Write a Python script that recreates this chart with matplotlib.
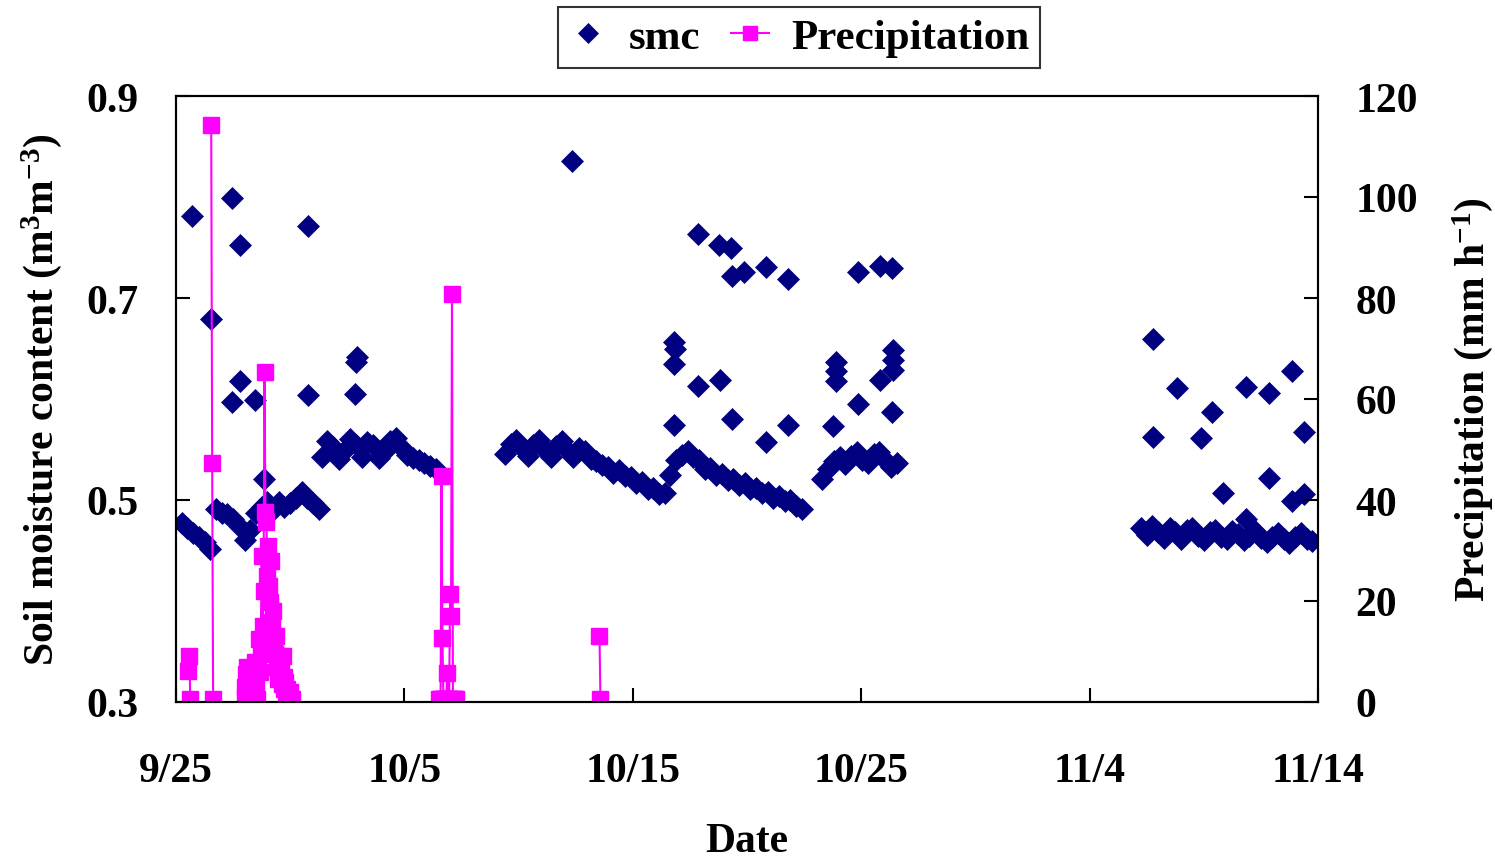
import numpy as np
import matplotlib
matplotlib.use('Agg')
import matplotlib.pyplot as plt

# x axis is days since 9/25 00:00
date_ticks = [0, 10, 20, 30, 40, 50]
date_labels = ['9/25', '10/5', '10/15', '10/25', '11/4', '11/14']

# soil moisture, continuous logger runs read every 6 h (first day, values)
run1_start = 0.25
run1_smc = [0.477, 0.472, 0.467, 0.463, 0.458, 0.451,
            0.491, 0.487, 0.486, 0.481, 0.474, 0.460, 0.470, 0.487,
            0.493, 0.498, 0.490, 0.498, 0.493, 0.497, 0.502, 0.508,
            0.502, 0.497, 0.491]
run2_start = 6.375
run2_smc = [0.543, 0.558, 0.552, 0.541, 0.549, 0.560, 0.554, 0.543,
            0.557, 0.554, 0.542, 0.548, 0.558, 0.561, 0.551, 0.545,
            0.542, 0.540, 0.537, 0.534, 0.531]
run3_start = 14.4
run3_smc = [0.546, 0.555, 0.559, 0.551, 0.544, 0.554, 0.559, 0.550,
            0.543, 0.553, 0.558, 0.549, 0.543, 0.551, 0.549, 0.541,
            0.539, 0.535, 0.533, 0.527, 0.530, 0.524, 0.523, 0.517,
            0.518, 0.511, 0.512, 0.506, 0.507, 0.525, 0.540, 0.545,
            0.549, 0.543, 0.540, 0.531, 0.532, 0.525, 0.526, 0.520,
            0.521, 0.515, 0.517, 0.511, 0.512, 0.507, 0.508, 0.502,
            0.504, 0.499, 0.500, 0.494, 0.491]
run4_start = 28.3
run4_smc = [0.521, 0.531, 0.539, 0.543, 0.536, 0.544, 0.548, 0.540,
            0.537, 0.546, 0.548, 0.540, 0.533, 0.537]
run5_start = 42.25
run5_smc = [0.472, 0.465, 0.474, 0.468, 0.462, 0.472, 0.468, 0.461,
            0.470, 0.472, 0.464, 0.460, 0.468, 0.470, 0.463, 0.461,
            0.469, 0.466, 0.460, 0.464, 0.469, 0.462, 0.458, 0.463,
            0.467, 0.461, 0.457, 0.463, 0.467, 0.461, 0.459]
smc_step = 0.25

# isolated high readings
spike_days = [0.70, 1.53, 2.45, 2.80, 2.45, 2.80, 3.46, 3.85, 5.78, 5.78,
              7.88, 7.92, 7.84, 17.34, 21.80, 21.85, 21.80, 21.80, 22.85,
              22.85, 23.77, 23.82, 24.30, 24.34, 24.34, 24.87, 25.83, 25.83,
              26.80, 26.80, 28.77, 28.90, 28.90, 28.90, 29.86, 29.86, 30.82,
              30.82, 31.35, 31.35, 31.39, 31.39, 31.39, 42.78, 42.78, 43.83,
              44.88, 45.36, 45.84, 46.85, 46.85, 47.85, 47.85, 48.86, 48.86,
              49.39, 49.39]
spike_smc = [0.781, 0.679, 0.799, 0.752, 0.597, 0.618, 0.599, 0.521, 0.771,
             0.604, 0.637, 0.642, 0.605, 0.836, 0.656, 0.650, 0.635, 0.574,
             0.763, 0.613, 0.752, 0.619, 0.750, 0.722, 0.580, 0.726, 0.731,
             0.557, 0.719, 0.574, 0.573, 0.637, 0.628, 0.618, 0.726, 0.595,
             0.732, 0.619, 0.730, 0.587, 0.649, 0.639, 0.629, 0.659, 0.562,
             0.611, 0.561, 0.587, 0.507, 0.612, 0.481, 0.606, 0.522, 0.628,
             0.499, 0.567, 0.506]

# hourly precipitation events (first hour since 9/25 00:00, mm/h)
rain1_start = 13
rain1 = [6.1, 9.1, 0.6]
rain2_start = 37
rain2 = [114.2, 47.3, 0.6]
rain3_start = 72
rain3 = [3.0, 1.0, 5.5, 7.0, 2.0, 0.5, 4.0, 6.5, 3.5, 1.5, 5.0, 8.0, 2.5,
         0.5, 7.5, 12.5, 6.0, 10.0, 28.9, 15.0, 22.0, 65.3, 37.6, 35.6,
         25.0, 30.9, 23.0, 19.8, 28.0, 15.8, 18.0, 12.0, 9.5, 13.0, 7.0,
         4.6, 9.1, 6.0, 8.0, 3.5, 9.1, 5.0, 2.6, 4.0, 1.5, 2.6, 1.0, 0.8,
         2.0, 0.6, 0.5]
rain4_start = 276
rain4 = [0.5, 0.5, 0.5, 44.8, 12.7, 0.5, 0.5, 0.5, 0.5, 5.7, 0.5, 0.5,
         21.4, 17.0, 80.7, 0.5, 0.5, 0.5, 0.5]
rain5_start = 445
rain5 = [13.1, 0.6]

plt.rcParams['font.family'] = ['Liberation Serif', 'DejaVu Serif']
plt.rcParams['font.weight'] = 'bold'
plt.rcParams['mathtext.fontset'] = 'custom'
plt.rcParams['mathtext.rm'] = 'Liberation Serif:bold'
plt.rcParams['mathtext.default'] = 'rm'

fs = 30
navy = '#000080'
magenta = '#FF00FF'

smc_t, smc_v = [], []
for start, vals in [(run1_start, run1_smc), (run2_start, run2_smc),
                    (run3_start, run3_smc), (run4_start, run4_smc),
                    (run5_start, run5_smc)]:
    smc_t.extend(start + smc_step * np.arange(len(vals)))
    smc_v.extend(vals)
smc_t.extend(spike_days)
smc_v.extend(spike_smc)

rain_t, rain_v = [], []
for start, vals in [(rain1_start, rain1), (rain2_start, rain2),
                    (rain3_start, rain3), (rain4_start, rain4),
                    (rain5_start, rain5)]:
    rain_t.extend((start + np.arange(len(vals))) / 24.0)
    rain_v.extend(vals)
    rain_t.append(np.nan)
    rain_v.append(np.nan)

fig = plt.figure(figsize=(14.95, 8.62), dpi=100)
ax = fig.add_axes([176/1495, 1-703/862, 1142/1495, 606/862])
ax2 = ax.twinx()

h1, = ax.plot(smc_t, smc_v, linestyle='none', marker='D', ms=11.5,
              color=navy, mec=navy, mew=0.5, label='smc')
h2, = ax2.plot(rain_t, rain_v, color=magenta, lw=1.5, marker='s', ms=11,
               mec=magenta, label='Precipitation')

ax.set_xlim(0, 50)
ax.set_ylim(0.3, 0.9)
ax2.set_ylim(0, 120)
ax.set_xticks(date_ticks)
ax.set_xticklabels(date_labels)
ax.set_yticks([0.3, 0.5, 0.7, 0.9])
ax.set_yticklabels(['0.3', '0.5', '0.7', '0.9'])
ax2.set_yticks([0, 20, 40, 60, 80, 100, 120])

ax.tick_params(axis='x', direction='in', length=10, width=1.5, pad=36,
               labelsize=fs)
ax.tick_params(axis='y', direction='in', length=10, width=1.5, pad=27,
               labelsize=fs)
ax2.tick_params(axis='y', direction='in', length=10, width=1.5, pad=27,
                labelsize=fs)
for a in (ax, ax2):
    for s in a.spines.values():
        s.set_linewidth(1.5)

ax.set_xlabel('Date', fontsize=fs, fontweight='bold')
ax.set_ylabel('Soil moisture content (m$^{3}$m$^{-3}$)', fontsize=fs,
              fontweight='bold')
ax2.set_ylabel('Precipitation (mm h$^{-1}$)', fontsize=fs,
               fontweight='bold')
ax.xaxis.set_label_coords(0.5, -0.198)
ax.yaxis.set_label_coords(-0.098, 0.5)
ax2.yaxis.set_label_coords(1.116, 0.5)

leg = fig.legend([h1, h2], ['smc', 'Precipitation'], loc='center',
                 bbox_to_anchor=(799/1495, 1-38.5/862), ncol=2,
                 fontsize=31, frameon=True, fancybox=False,
                 handlelength=0.9, handletextpad=0.5, columnspacing=0.7,
                 borderpad=0.25, markerscale=0.9)
leg.get_frame().set_edgecolor('black')
leg.get_frame().set_linewidth(1.5)

fig.savefig('out.png', dpi=100)
